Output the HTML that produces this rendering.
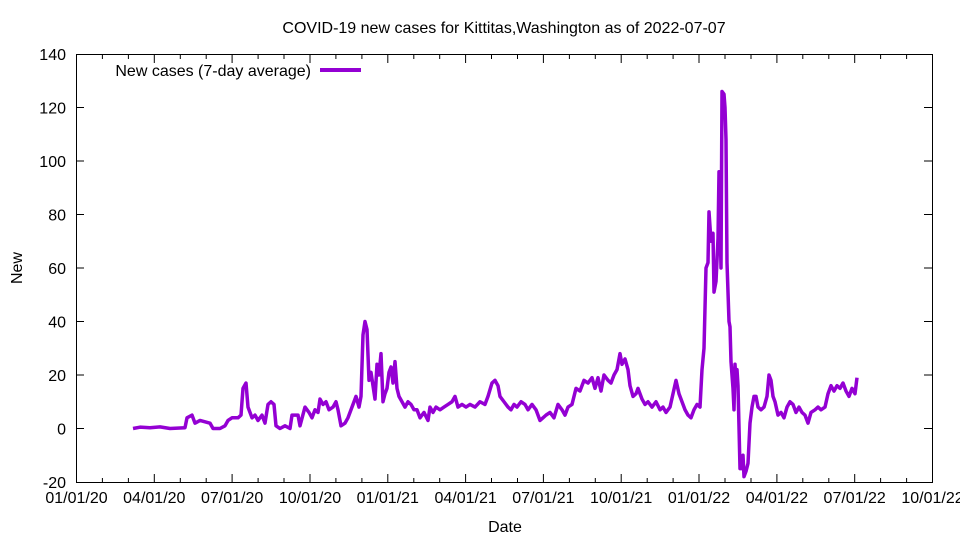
<!DOCTYPE html>
<html><head><meta charset="utf-8"><style>body{margin:0;background:#fff}svg{display:block}text{font-family:"Liberation Sans",sans-serif;font-size:16px;fill:#000}</style></head><body>
<svg width="960" height="540" viewBox="0 0 960 540" xmlns="http://www.w3.org/2000/svg">
<text x="504" y="33" text-anchor="middle">COVID-19 new cases for Kittitas,Washington as of 2022-07-07</text>
<rect x="76.5" y="54.5" width="856" height="428" fill="none" stroke="#000"/>
<path stroke="#000" fill="none" d="
M76,428.5h8M76,375h8M76,321.5h8M76,268h8M76,214.5h8M76,161h8M76,107.5h8
M932,428.5h-8M932,375h-8M932,321.5h-8M932,268h-8M932,214.5h-8M932,161h-8M932,107.5h-8
M154.3,482v-8M232.1,482v-8M310,482v-8M387.8,482v-8M465.6,482v-8M543.4,482v-8M621.2,482v-8M699,482v-8M776.9,482v-8M854.7,482v-8
M154.3,55v8M232.1,55v8M310,55v8M387.8,55v8M465.6,55v8M543.4,55v8M621.2,55v8M699,55v8M776.9,55v8M854.7,55v8
M102.4,482v-4M128.4,482v-4M180.3,482v-4M206.2,482v-4M258.1,482v-4M284,482v-4M335.9,482v-4M361.9,482v-4M413.8,482v-4M439.7,482v-4M491.5,482v-4M517.5,482v-4M569.4,482v-4M595.3,482v-4M647.2,482v-4M673.1,482v-4M725,482v-4M751,482v-4M802.8,482v-4M828.8,482v-4M880.6,482v-4M906.6,482v-4
M102.4,55v4M128.4,55v4M180.3,55v4M206.2,55v4M258.1,55v4M284,55v4M335.9,55v4M361.9,55v4M413.8,55v4M439.7,55v4M491.5,55v4M517.5,55v4M569.4,55v4M595.3,55v4M647.2,55v4M673.1,55v4M725,55v4M751,55v4M802.8,55v4M828.8,55v4M880.6,55v4M906.6,55v4"/>
<g text-anchor="end">
<text x="66" y="488">-20</text><text x="66" y="434.5">0</text><text x="66" y="381">20</text><text x="66" y="327.5">40</text><text x="66" y="274">60</text><text x="66" y="220.5">80</text><text x="66" y="167">100</text><text x="66" y="113.5">120</text><text x="66" y="60">140</text>
</g>
<g text-anchor="middle">
<text x="76.5" y="503">01/01/20</text><text x="154.3" y="503">04/01/20</text><text x="232.1" y="503">07/01/20</text><text x="310" y="503">10/01/20</text><text x="387.8" y="503">01/01/21</text><text x="465.6" y="503">04/01/21</text><text x="543.4" y="503">07/01/21</text><text x="621.2" y="503">10/01/21</text><text x="699" y="503">01/01/22</text><text x="776.9" y="503">04/01/22</text><text x="854.7" y="503">07/01/22</text><text x="932.5" y="503">10/01/22</text>
</g>
<text x="22" y="268" text-anchor="middle" transform="rotate(-90 22 268)">New</text>
<text x="505" y="532" text-anchor="middle">Date</text>
<text x="311" y="76" text-anchor="end">New cases (7-day average)</text>
<line x1="320" y1="70" x2="361" y2="70" stroke="#9400d3" stroke-width="4"/>
<g transform="matrix(1 0 0 -2.675 0 428.5)">
<polyline fill="none" stroke="#9400d3" stroke-width="3.5" stroke-linejoin="round" vector-effect="non-scaling-stroke" points="133,0 140,0.5 150,0.3 160,0.6 170,0 180,0.2 185,0.3 187,4 192,5 195,2 200,3 210,2 213,0 220,0 225,1 228,3 232,4 238,4 241,5 243,15 246,17 248,8 252,4 255,5 258,3 262,5 265,2 268,9 271,10 274,9 276,1 280,0 285,1 290,0 292,5 298,5 300,1 305,8 309,6 312,4 315,7 318,6 320,11 323,9 326,10 329,7 333,8 336,10 338,7 341,1 345,2 348,4 351,7 354,10 356,12 359,8 361,12 363,35 365,40 367,37 369,18 371,21 373,16 375,11 377,24 379,20 381,28 383,10 385,13 387,15 389,21 391,23 393,17 395,25 397,15 399,12 402,10 405,8 408,10 411,9 414,7 417,7 420,4 424,6 428,3 430,8 433,6 436,8 440,7 444,8 448,9 452,10 455,12 458,8 462,9 466,8 470,9 475,8 480,10 485,9 488,12 492,17 495,18 498,16 500,12 504,10 508,8 511,7 514,9 517,8 521,10 525,9 528,7 532,9 536,7 540,3 543,4 546,5 550,6 554,4 558,9 562,7 565,5 568,8 572,9 576,15 580,14 584,18 588,17 592,19 595,15 598,19 601,14 604,20 608,18 611,17 614,20 617,22 620,28 622,24 625,26 628,22 630,16 633,12 636,13 638,15 640,13 642,11 645,9 648,10 652,8 656,10 660,7 663,8 666,6 670,8 673,13 676,18 679,13 682,10 685,7 688,5 691,4 694,7 697,9 700,8 702,22 704,30 706,60 708,62 709,81 711,70 713,73 714,51 716,55 718,71 719,96 721,60 722,126 724,125 725,120 726,108 727,62 729,40 730,38 731,25 733,15 734,7 735,24 736,18 737,22 738,16 740,-15 742,-15 743,-10 744,-18 746,-16 748,-13 750,2 752,8 754,12 756,12 758,8 761,7 764,8 767,12 769,20 771,18 773,12 775,10 778,5 781,6 784,4 787,8 790,10 793,9 796,6 799,8 802,6 805,5 808,2 811,6 815,7 818,8 821,7 825,8 828,13 831,16 834,14 837,16 840,15 843,17 846,14 849,12 852,15 855,13 857,19"/>
</g>
</svg>
</body></html>
